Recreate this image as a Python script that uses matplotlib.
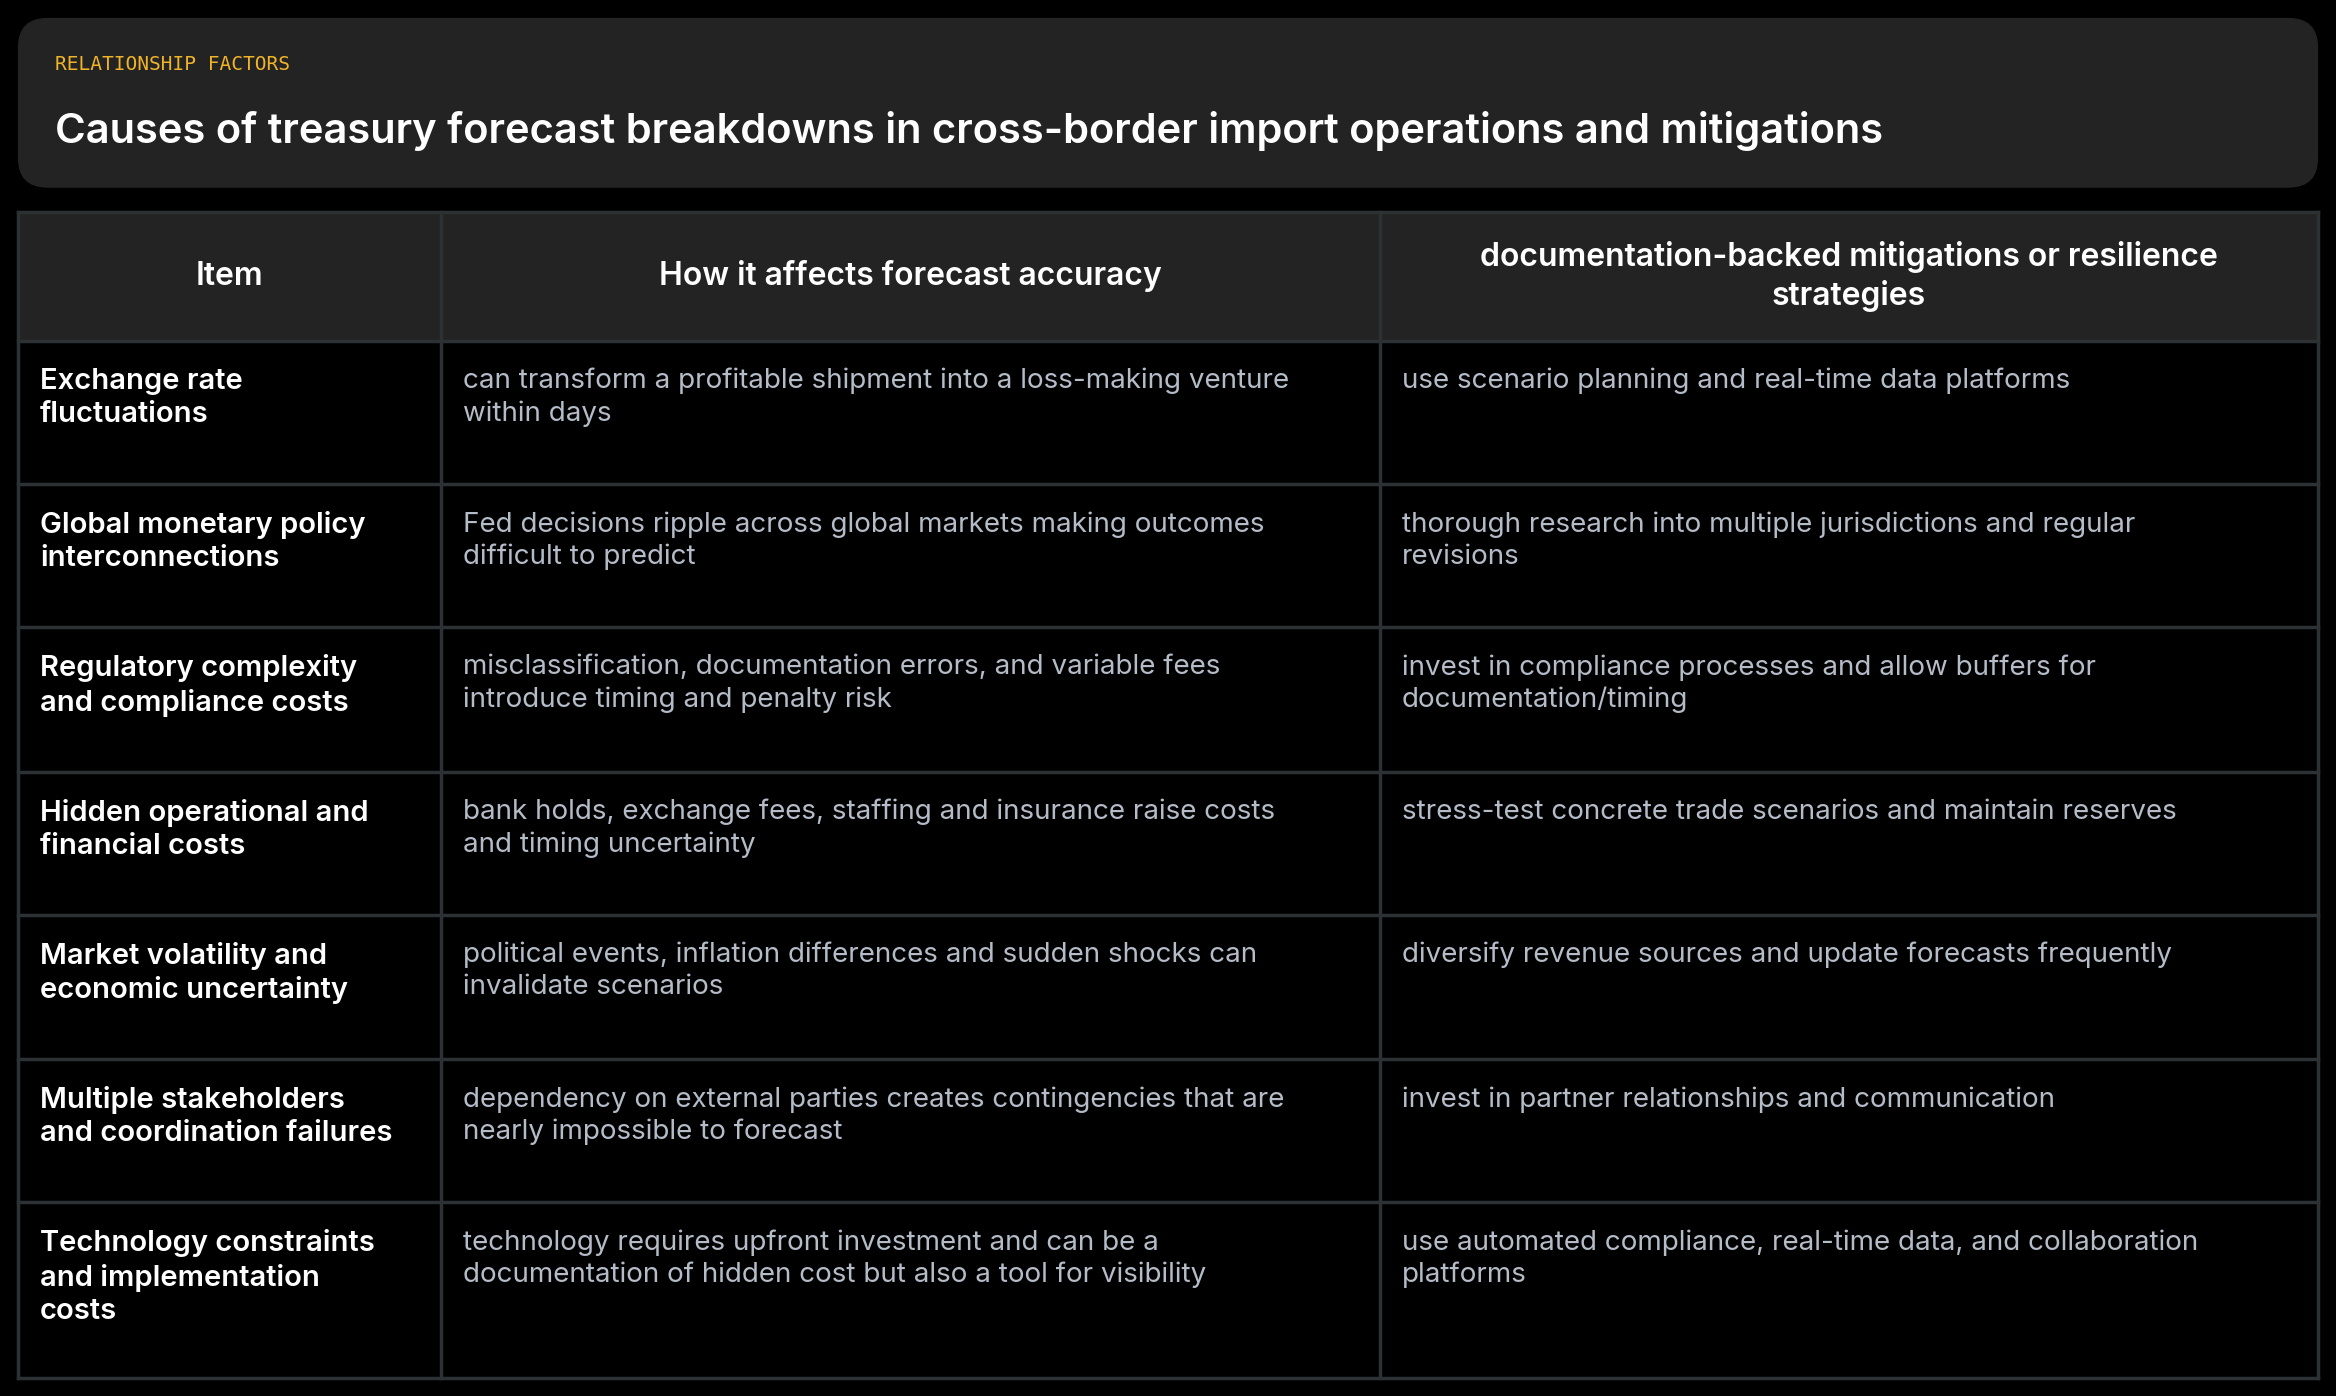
import matplotlib
matplotlib.use('Agg')
import matplotlib.pyplot as plt
from matplotlib.patches import FancyBboxPatch, Rectangle

label = 'RELATIONSHIP FACTORS'
title = 'Causes of treasury forecast breakdowns in cross-border import operations and mitigations'
headers = ['Item', 'How it affects forecast accuracy',
           'documentation-backed mitigations or resilience\nstrategies']
items = ['Exchange rate\nfluctuations',
         'Global monetary policy\ninterconnections',
         'Regulatory complexity\nand compliance costs',
         'Hidden operational and\nfinancial costs',
         'Market volatility and\neconomic uncertainty',
         'Multiple stakeholders\nand coordination failures',
         'Technology constraints\nand implementation\ncosts']
effects = ['can transform a profitable shipment into a loss-making venture\nwithin days',
           'Fed decisions ripple across global markets making outcomes\ndifficult to predict',
           'misclassification, documentation errors, and variable fees\nintroduce timing and penalty risk',
           'bank holds, exchange fees, staffing and insurance raise costs\nand timing uncertainty',
           'political events, inflation differences and sudden shocks can\ninvalidate scenarios',
           'dependency on external parties creates contingencies that are\nnearly impossible to forecast',
           'technology requires upfront investment and can be a\ndocumentation of hidden cost but also a tool for visibility']
mitigations = ['use scenario planning and real-time data platforms',
               'thorough research into multiple jurisdictions and regular\nrevisions',
               'invest in compliance processes and allow buffers for\ndocumentation/timing',
               'stress-test concrete trade scenarios and maintain reserves',
               'diversify revenue sources and update forecasts frequently',
               'invest in partner relationships and communication',
               'use automated compliance, real-time data, and collaboration\nplatforms']

plt.rcParams['font.family'] = ['Inter', 'DejaVu Sans']
fig = plt.figure(figsize=(23.36, 13.96), dpi=100, facecolor='#000000')
ax = fig.add_axes([0, 0, 1, 1])
ax.set_xlim(0, 1568)
ax.set_ylim(937, 0)
ax.axis('off')

# header card
ax.add_patch(FancyBboxPatch((12, 12), 1544, 114, boxstyle='round,pad=0,rounding_size=20',
                            fc='#232323', ec='none'))
ax.text(37, 43, label, color='#f0b429', fontsize=14, family='DejaVu Sans Mono', va='center')
ax.text(37, 88, title, color='white', fontsize=30, weight='semibold', va='center')

cols = [12, 296, 926, 1556]
rows = [142, 229, 325, 421, 518, 614, 711, 807, 925]
border = '#2c3134'

ax.add_patch(Rectangle((12, 142), 1544, 87, fc='#232323', ec='none'))
for j, h in enumerate(headers):
    ax.text((cols[j] + cols[j + 1]) / 2, 185.5, h, color='white', fontsize=23,
            weight='semibold', ha='center', va='center', linespacing=1.3)

for i in range(len(items)):
    y = rows[i + 1] + 18
    ax.text(27, y, items[i], color='white', fontsize=21, weight='semibold', va='top', linespacing=1.3)
    ax.text(311, y, effects[i], color='#b4bcc8', fontsize=20, va='top', linespacing=1.3)
    ax.text(941, y, mitigations[i], color='#b4bcc8', fontsize=20, va='top', linespacing=1.3)

for y in rows:
    ax.plot([12, 1556], [y, y], color=border, lw=2.5)
for x in cols:
    ax.plot([x, x], [142, 925], color=border, lw=2.5)

fig.savefig('out.png', dpi=100, facecolor='#000000')
